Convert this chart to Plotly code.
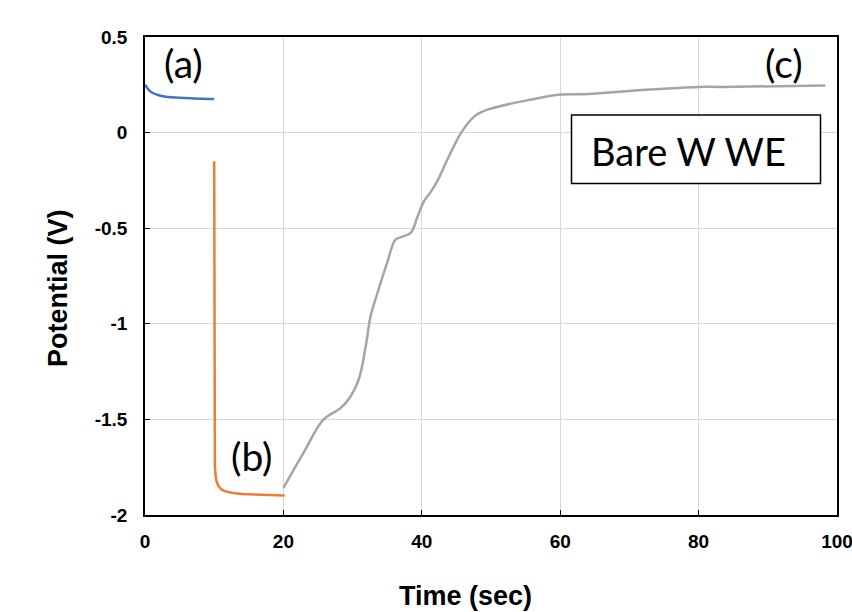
import plotly.graph_objects as go

# Data
t_a = [0, 0.5, 1, 2, 3, 5, 7, 10]
v_a = [0.25, 0.225, 0.21, 0.195, 0.188, 0.182, 0.179, 0.176]

t_b = [10, 10.05, 10.1, 10.2, 10.35, 10.6, 11, 11.5, 12.5, 14, 17, 20.2]
v_b = [-0.15, -1.2, -1.74, -1.795, -1.825, -1.848, -1.865, -1.875, -1.884, -1.89, -1.895, -1.898]

t_c = [20.0, 22.9, 25.8, 28.3, 29.7, 30.9, 31.9, 32.6, 33.6, 35.0, 36.2, 37.4, 38.4,
       39.4, 40.3, 41.3, 42.3, 43.7, 45.7, 47.6, 49.5, 55.8, 60.1, 64.0, 71.3, 80.0, 83.3, 98.3]
v_c = [-1.858, -1.675, -1.50, -1.44, -1.38, -1.29, -1.118, -0.96, -0.838, -0.68, -0.56,
       -0.542, -0.525, -0.438, -0.36, -0.31, -0.25, -0.141, 0.0, 0.085, 0.12, 0.173, 0.199,
       0.202, 0.221, 0.239, 0.239, 0.246]

x_ticks = [0, 20, 40, 60, 80, 100]
x_ticktext = ["0", "20", "40", "60", "80", "100"]
y_ticks = [0.5, 0, -0.5, -1, -1.5, -2]
y_ticktext = ["0.5", "0", "-0.5", "-1", "-1.5", "-2"]

labels = ["(a)", "(b)", "(c)"]
box_label = "Bare W WE"
x_title = "Time (sec)"
y_title = "Potential (V)"

fig = go.Figure()
fig.add_trace(go.Scatter(x=t_a, y=v_a, mode="lines", line=dict(color="#4472C4", width=2.5, shape="spline")))
fig.add_trace(go.Scatter(x=t_b, y=v_b, mode="lines", line=dict(color="#ED7D31", width=2.5)))
fig.add_trace(go.Scatter(x=t_c, y=v_c, mode="lines", line=dict(color="#A5A5A5", width=2.5, shape="spline")))

tickfont = dict(family="Liberation Sans", size=19, color="black", weight="bold")
common = dict(showgrid=True, gridcolor="#D9D9D9", gridwidth=1, showline=True, linecolor="black",
              linewidth=1.5, mirror=True, ticks="inside", ticklen=5, tickcolor="black",
              tickfont=tickfont, zeroline=False, automargin=False, ticklabeloverflow="allow")
fig.update_xaxes(range=[0, 100], tickvals=x_ticks, ticktext=x_ticktext, ticklabelstandoff=8, **common)
fig.update_yaxes(range=[-2, 0.5], tickvals=y_ticks, ticktext=y_ticktext, ticklabelstandoff=12, **common)

fig.update_layout(
    width=852, height=612, showlegend=False,
    margin=dict(l=145, r=15, t=37, b=97),
    plot_bgcolor="white", paper_bgcolor="white",
    font=dict(family="Liberation Sans", color="black"),
)

def px_x(p):
    return (p - 145) / 692

def px_y(p):
    return (515 - p) / 478

ann_font = dict(family="Lato", size=39, color="black")
fig.add_annotation(x=px_x(183), y=px_y(63.5), xref="paper", yref="paper", text=labels[0],
                   showarrow=False, font=ann_font, xanchor="center", yanchor="middle")
fig.add_annotation(x=px_x(252), y=px_y(455.5), xref="paper", yref="paper", text=labels[1],
                   showarrow=False, font=ann_font, xanchor="center", yanchor="middle")
fig.add_annotation(x=px_x(784), y=px_y(63.5), xref="paper", yref="paper", text=labels[2],
                   showarrow=False, font=ann_font, xanchor="center", yanchor="middle")

fig.add_shape(type="rect", xref="paper", yref="paper", x0=px_x(571.5), x1=px_x(820.5),
              y0=px_y(183.5), y1=px_y(115), line=dict(color="black", width=1.5),
              fillcolor="white", layer="above")
fig.add_annotation(x=px_x(589), y=px_y(151), xref="paper", yref="paper", text=box_label,
                   showarrow=False, font=dict(family="Lato", size=38, color="black"),
                   xanchor="left", yanchor="middle")

title_font = dict(family="Liberation Sans", size=27, color="black", weight="bold")
fig.add_annotation(x=px_x(465), y=px_y(596), xref="paper", yref="paper", text=x_title,
                   showarrow=False, font=title_font, xanchor="center", yanchor="middle")
fig.add_annotation(x=px_x(58), y=px_y(288), xref="paper", yref="paper", text=y_title,
                   showarrow=False, textangle=-90, font=title_font, xanchor="center", yanchor="middle")

fig.write_html("out.html")
